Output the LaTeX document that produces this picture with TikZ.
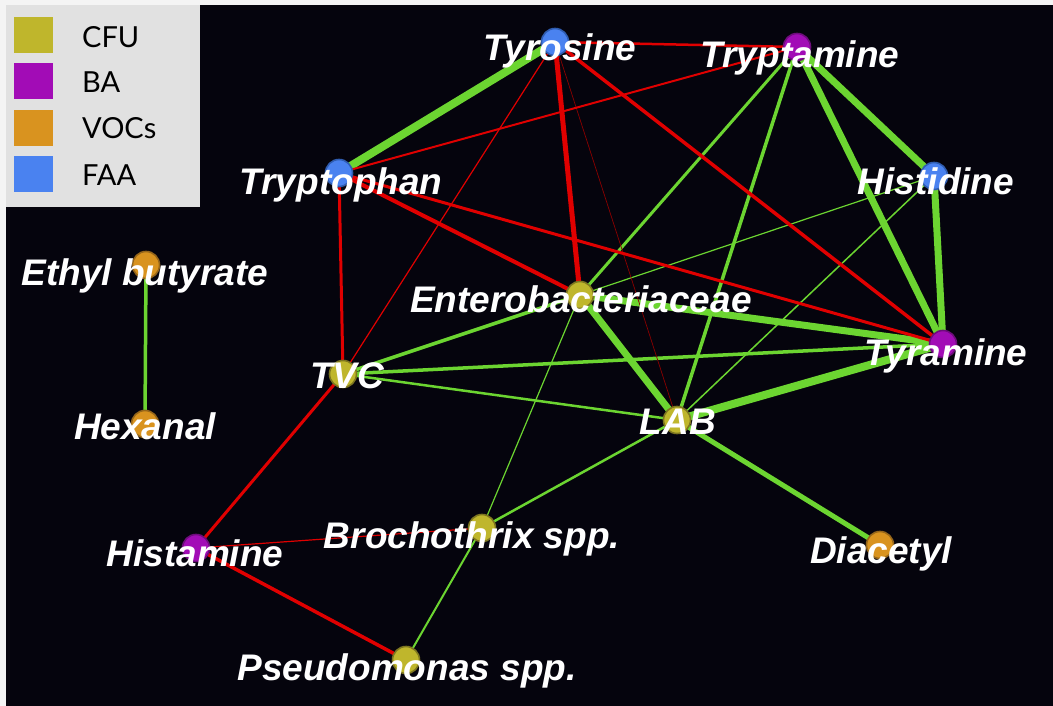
\documentclass[tikz,border=0pt]{standalone}
\usepackage{fontspec}
\newfontfamily\labfont{Liberation Sans}
\newfontfamily\legfont{Lato}
\pgfdeclarelayer{bgl}
\pgfdeclarelayer{edges}
\pgfsetlayers{bgl,edges,main}
\definecolor{bgblack}{HTML}{05040D}
\definecolor{margin}{HTML}{F4F4F4}
\definecolor{legbg}{HTML}{E1E1E1}
\definecolor{cfu}{HTML}{BFB62C}
\definecolor{cfuo}{HTML}{7D7620}
\definecolor{ba}{HTML}{A20CB6}
\definecolor{bao}{HTML}{6E0C7C}
\definecolor{voc}{HTML}{D9931F}
\definecolor{voco}{HTML}{96661A}
\definecolor{faa}{HTML}{4A82F0}
\definecolor{faao}{HTML}{2F5CB0}
\definecolor{pos}{HTML}{6CD531}
\definecolor{neg}{HTML}{E00000}
\definecolor{negdark}{HTML}{8A0000}
\tikzset{
  vtx/.style={circle, minimum size=27pt, inner sep=0pt, line width=1.6pt},
  vcfu/.style={vtx, fill=cfu, draw=cfuo},
  vba/.style={vtx, fill=ba, draw=bao},
  vvoc/.style={vtx, fill=voc, draw=voco},
  vfaa/.style={vtx, fill=faa, draw=faao},
  lab/.style={anchor=base, inner sep=0pt, text=white, font=\labfont\bfseries\itshape\fontsize{37}{37}\selectfont},
  gedge/.style={draw=pos, line width=#1},
  redge/.style={draw=neg, line width=#1},
  legsw/.style={anchor=north west, inner sep=0pt, minimum width=39pt, minimum height=36pt},
  legtx/.style={anchor=west, inner sep=0pt, text=black, font=\legfont\fontsize{29}{29}\selectfont},
}
\begin{document}
\begin{tikzpicture}[x=1pt, y=-1pt]
\useasboundingbox (0,0) rectangle (1053,706);
\begin{pgfonlayer}{bgl}
\fill[margin] (0,0) rectangle (1053,706);
\fill[bgblack] (6,5) rectangle (1053,706);
\fill[legbg] (6,5) rectangle (200,207);
\end{pgfonlayer}
% legend
\node[legsw, fill=cfu] (swcfu) at (14,17) {};
\node[legsw, fill=ba] (swba) at (14,63) {};
\node[legsw, fill=voc] (swvoc) at (14,110) {};
\node[legsw, fill=faa] (swfaa) at (14,156) {};
\node[legtx] (txcfu) at (82,37) {CFU};
\node[legtx] (txba) at (82,82) {BA};
\node[legtx] (txvoc) at (82,128) {VOCs};
\node[legtx] (txfaa) at (82,175) {FAA};
% vertices
\node[vfaa] (tyrosine) at (555,42) {};
\node[vba] (tryptamine) at (797,47) {};
\node[vfaa] (tryptophan) at (339,173) {};
\node[vfaa] (histidine) at (934,176) {};
\node[vvoc] (ethyl) at (146,265) {};
\node[vcfu] (entero) at (580,295) {};
\node[vba] (tyramine) at (943,344) {};
\node[vcfu] (tvc) at (343,374) {};
\node[vvoc] (hexanal) at (145,424) {};
\node[vcfu] (lab) at (677,420) {};
\node[vcfu] (broch) at (482,528) {};
\node[vba] (histamine) at (196,548) {};
\node[vvoc] (diacetyl) at (880,545) {};
\node[vcfu] (pseudo) at (406,660) {};
% edges
\begin{pgfonlayer}{edges}
\draw[gedge=8pt] (tyrosine.center) -- (tryptophan.center);
\draw[gedge=7pt] (tryptamine.center) -- (histidine.center);
\draw[gedge=7pt] (tryptamine.center) -- (tyramine.center);
\draw[gedge=7pt] (histidine.center) -- (tyramine.center);
\draw[gedge=7pt] (entero.center) -- (tyramine.center);
\draw[gedge=7pt] (entero.center) -- (lab.center);
\draw[gedge=8pt] (lab.center) -- (tyramine.center);
\draw[gedge=5pt] (lab.center) -- (diacetyl.center);
\draw[gedge=3pt] (tryptamine.center) -- (entero.center);
\draw[gedge=3.5pt] (tryptamine.center) -- (lab.center);
\draw[gedge=1.2pt] (histidine.center) -- (entero.center);
\draw[gedge=1.5pt] (histidine.center) -- (lab.center);
\draw[gedge=3.5pt] (entero.center) -- (tvc.center);
\draw[gedge=3.5pt] (tvc.center) -- (tyramine.center);
\draw[gedge=2.5pt] (tvc.center) -- (lab.center);
\draw[gedge=2.5pt] (lab.center) -- (broch.center);
\draw[gedge=1.2pt] (entero.center) -- (broch.center);
\draw[gedge=2pt] (broch.center) -- (pseudo.center);
\draw[gedge=3.5pt] (ethyl.center) -- (hexanal.center);
\draw[redge=2.5pt] (tyrosine.center) -- (tryptamine.center);
\draw[redge=5pt] (tyrosine.center) -- (entero.center);
\draw[redge=3.5pt] (tyrosine.center) -- (tyramine.center);
\draw[redge=1.2pt] (tyrosine.center) -- (tvc.center);
\draw[draw=negdark, line width=0.7pt] (tyrosine.center) -- (lab.center);
\draw[redge=2pt] (tryptamine.center) -- (tryptophan.center);
\draw[redge=3pt] (tryptophan.center) -- (tvc.center);
\draw[redge=4pt] (tryptophan.center) -- (entero.center);
\draw[redge=3pt] (tryptophan.center) -- (tyramine.center);
\draw[redge=3pt] (tvc.center) -- (histamine.center);
\draw[redge=1.2pt] (histamine.center) -- (broch.center);
\draw[redge=3.5pt] (histamine.center) -- (pseudo.center);
\end{pgfonlayer}
% labels
\node[lab] (tyrosineL) at (560,61) {Tyrosine};
\node[lab] (tryptamineL) at (800,68) {Tryptamine};
\node[lab] (tryptophanL) at (341,194) {Tryptophan};
\node[lab] (histidineL) at (936,195) {Histidine};
\node[lab] (ethylL) at (145,285) {Ethyl butyrate};
\node[lab] (enteroL) at (581,312) {Enterobacteriaceae};
\node[lab] (tyramineL) at (946,365) {Tyramine};
\node[lab] (tvcL) at (347,388) {TVC};
\node[lab] (hexanalL) at (145,439) {Hexanal};
\node[lab] (labL) at (678,434) {LAB};
\node[lab] (brochL) at (472,548) {Brochothrix spp.};
\node[lab] (histamineL) at (195,566) {Histamine};
\node[lab] (diacetylL) at (881,563) {Diacetyl};
\node[lab] (pseudoL) at (407,680) {Pseudomonas spp.};
\end{tikzpicture}
\end{document}
